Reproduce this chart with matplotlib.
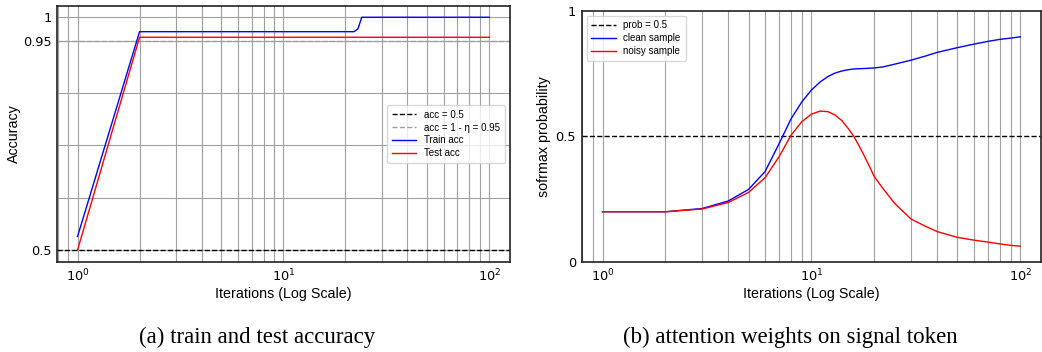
import numpy as np
import matplotlib.pyplot as plt

plt.rcParams['font.family'] = ['Liberation Sans', 'DejaVu Sans']
plt.rcParams['mathtext.fontset'] = 'dejavusans'

# (a) train / test accuracy
acc_iters = [1, 2, 22, 23, 24, 100]
train_acc = [0.529, 0.969, 0.969, 0.975, 1.0, 1.0]
test_iters = [1, 2, 100]
test_acc = [0.5, 0.957, 0.957]
acc_yticks = [0.5, 0.6125, 0.725, 0.8375, 0.95, 1.0]
acc_ylabels = ['0.5', '', '', '', '0.95', '1']

# (b) softmax probability on signal token
prob_iters = [1, 2, 3, 4, 5, 6, 7, 8, 9, 10, 11, 12, 13, 14, 15, 16, 17, 18, 19, 20,
              22, 25, 30, 35, 40, 50, 60, 70, 80, 90, 100]
clean_prob = [0.199, 0.199, 0.212, 0.242, 0.288, 0.359, 0.47, 0.57, 0.637, 0.684,
              0.716, 0.738, 0.752, 0.760, 0.765, 0.768, 0.769, 0.770, 0.771, 0.772,
              0.776, 0.787, 0.803, 0.819, 0.834, 0.853, 0.867, 0.878, 0.886, 0.891, 0.896]
noisy_prob = [0.199, 0.199, 0.210, 0.236, 0.276, 0.335, 0.418, 0.505, 0.558, 0.588,
              0.600, 0.598, 0.584, 0.562, 0.531, 0.498, 0.458, 0.418, 0.378, 0.339,
              0.292, 0.233, 0.170, 0.142, 0.120, 0.097, 0.086, 0.078, 0.071, 0.065, 0.062]

fig = plt.figure(figsize=(10.42, 3.52), dpi=100)
ax1 = fig.add_axes([0.0547, 0.2557, 0.4347, 0.727])
ax2 = fig.add_axes([0.5582, 0.2565, 0.4410, 0.713])

grid_kw = dict(color='#a0a0a0', linewidth=0.8)

# left panel
ax1.set_xscale('log')
ax1.axhline(0.5, color='black', linestyle='--', linewidth=1, label='acc = 0.5')
ax1.axhline(0.95, color='#a0a0a0', linestyle='--', linewidth=1, label='acc = 1 - η = 0.95')
ax1.plot(acc_iters, train_acc, color='blue', linewidth=1, label='Train acc')
ax1.plot(test_iters, test_acc, color='red', linewidth=1, label='Test acc')
ax1.set_xlim(10 ** -0.1, 10 ** 2.1)
ax1.set_ylim(0.474, 1.024)
ax1.set_yticks(acc_yticks)
ax1.set_yticklabels(acc_ylabels)
ax1.grid(True, which='both', axis='x', **grid_kw)
ax1.grid(True, which='major', axis='y', **grid_kw)
ax1.set_xlabel('Iterations (Log Scale)', fontsize=10.3, labelpad=2)
ax1.set_ylabel('Accuracy', fontsize=10.3, labelpad=1)
ax1.legend(loc='center right', fontsize=7, frameon=True, edgecolor='#d0d0d0',
           handlelength=2.5, borderpad=0.5, labelspacing=0.3)

# right panel
ax2.set_xscale('log')
ax2.axhline(0.5, color='black', linestyle='--', linewidth=1, label='prob = 0.5')
ax2.plot(prob_iters, clean_prob, color='blue', linewidth=1, label='clean sample')
ax2.plot(prob_iters, noisy_prob, color='red', linewidth=1, label='noisy sample')
ax2.set_xlim(10 ** -0.1, 10 ** 2.1)
ax2.set_ylim(0, 1)
ax2.set_yticks([0, 0.5, 1])
ax2.set_yticklabels(['0', '0.5', '1'])
ax2.grid(True, which='both', axis='x', **grid_kw)
ax2.set_xlabel('Iterations (Log Scale)', fontsize=10.3, labelpad=2)
ax2.set_ylabel('sofrmax probability', fontsize=10.3, labelpad=3)
ax2.legend(loc='upper left', fontsize=7, frameon=True, edgecolor='#d0d0d0',
           handlelength=2.5, borderpad=0.5, labelspacing=0.3)

for ax in (ax1, ax2):
    ax.tick_params(which='both', length=0, labelsize=9.3, pad=4)
    for lab in ax.get_xticklabels() + ax.get_yticklabels():
        lab.set_family('DejaVu Sans')
    for s in ax.spines.values():
        s.set_color('#222222')
        s.set_linewidth(1.2)

fig.text(257 / 1042, 1 - 343 / 352, '(a) train and test accuracy', ha='center', va='baseline',
         fontsize=16.5, family='Liberation Serif')
fig.text(790 / 1042, 1 - 343 / 352, '(b) attention weights on signal token', ha='center',
         va='baseline', fontsize=16.5, family='Liberation Serif')

fig.savefig('out.png', dpi=100)
